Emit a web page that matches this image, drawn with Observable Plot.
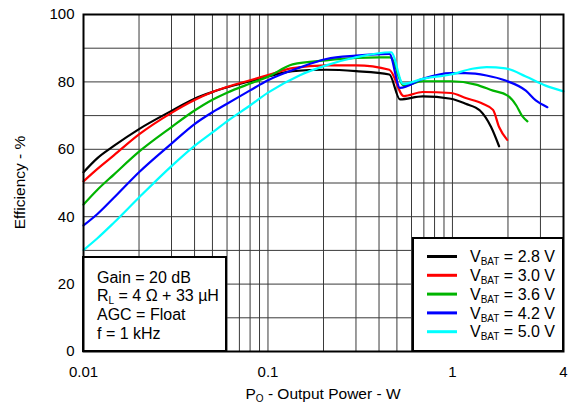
<!DOCTYPE html>
<html><head><meta charset="utf-8">
<script src="https://cdn.jsdelivr.net/npm/d3@7"></script>
<script src="https://cdn.jsdelivr.net/npm/@observablehq/plot@0.6"></script>
<style>body{margin:0;background:#fff}</style>
</head><body><div id="chart"></div>
<script>
// ---- data ----
const seriesLabels = ["V_{BAT} = 2.8 V", "V_{BAT} = 3.0 V", "V_{BAT} = 3.6 V", "V_{BAT} = 4.2 V", "V_{BAT} = 5.0 V"];
const seriesColors = ["#000000", "#ff0000", "#00b400", "#0000ff", "#00ffff"];

const power28 = [0.01, 0.0119, 0.0146, 0.02, 0.03, 0.04, 0.05, 0.06, 0.08, 0.1, 0.136, 0.207, 0.30, 0.455, 0.52, 0.69, 0.98, 1.18, 1.41, 1.62, 1.79];
const eff28   = [53.2, 57.4, 61.0, 66.0, 71.4, 75.0, 77.0, 78.4, 80.2, 81.6, 83.2, 83.6, 83.2, 82.2, 74.8, 75.7, 75.0, 73.5, 71.5, 66.6, 60.9];

const power30 = [0.01, 0.0119, 0.0146, 0.02, 0.03, 0.04, 0.05, 0.06, 0.08, 0.1, 0.136, 0.207, 0.30, 0.455, 0.545, 0.69, 0.98, 1.18, 1.46, 1.66, 1.79, 1.98];
const eff30   = [50.5, 54.2, 58.2, 64.4, 70.8, 74.6, 77.0, 78.5, 80.5, 82.0, 84.1, 84.9, 84.9, 83.6, 75.8, 77.0, 76.7, 75.2, 73.5, 71.7, 66.6, 62.8];

const power36 = [0.01, 0.0119, 0.0146, 0.02, 0.03, 0.04, 0.05, 0.06, 0.08, 0.1, 0.136, 0.207, 0.30, 0.40, 0.46, 0.545, 0.69, 0.98, 1.34, 1.66, 1.98, 2.22, 2.38, 2.55];
const eff36   = [43.6, 48.0, 52.5, 59.3, 66.6, 71.5, 74.7, 76.8, 79.5, 81.5, 85.2, 86.4, 87.1, 87.3, 87.3, 78.9, 80.2, 80.2, 79.2, 77.4, 76.0, 73.0, 70.0, 68.3];

const power42 = [0.01, 0.0119, 0.0146, 0.02, 0.03, 0.04, 0.05, 0.06, 0.08, 0.1, 0.149, 0.207, 0.30, 0.455, 0.52, 0.69, 0.98, 1.18, 1.53, 1.94, 2.5, 2.83, 3.27];
const eff42   = [37.4, 40.8, 45.6, 53.2, 61.7, 67.5, 71.0, 73.5, 77.5, 80.5, 84.3, 86.8, 87.8, 88.3, 78.2, 80.9, 82.6, 82.6, 81.9, 80.4, 77.4, 74.5, 72.5];

const power50 = [0.01, 0.0119, 0.0146, 0.02, 0.03, 0.04, 0.05, 0.06, 0.08, 0.1, 0.149, 0.207, 0.30, 0.465, 0.54, 0.69, 0.98, 1.28, 1.53, 1.94, 2.5, 3.2, 4.0];
const eff50   = [30.1, 33.6, 38.2, 45.7, 55.0, 61.0, 65.0, 68.3, 73.0, 76.8, 82.0, 84.9, 87.3, 88.8, 79.4, 80.9, 82.2, 83.9, 84.4, 84.0, 81.6, 78.9, 77.2];

const xTicks = [0.01, 0.1, 1, 4];
const xTickLabels = ["0.01", "0.1", "1", "4"];
const yTicks = [0, 20, 40, 60, 80, 100];
const noteLines = ["Gain = 20 dB", "R_{L} = 4 \u03A9 + 33 \u00B5H", "AGC = Float", "f = 1 kHz"];
const xTitle = "P_{O} - Output Power - W";
const yTitle = "Efficiency - %";

// ---- build table ----
const powers = [power28, power30, power36, power42, power50];
const effs = [eff28, eff30, eff36, eff42, eff50];
const rows = [];
seriesLabels.forEach((s, k) => powers[k].forEach((p, i) => rows.push({series: s, power: p, eff: effs[k][i]})));

const gridX = [];
for (const dec of [0.01, 0.1, 1]) for (let m = 1; m <= 9; m++) { const v = +(m * dec).toPrecision(3); if (v > 0.01 && v < 4) gridX.push(v); }
const gridY = d3.range(10, 100, 10);

function richText(g, str, x, y, anchor, size) {
  const t = g.append("text").attr("x", x).attr("y", y).attr("dy", "0.35em")
    .attr("text-anchor", anchor).attr("font-size", size + "px").attr("fill", "black");
  const parts = str.split(/(_\{[^}]*\})/);
  let sub = false;
  for (const p of parts) {
    if (!p) continue;
    const m = p.match(/^_\{([^}]*)\}$/);
    if (m) { t.append("tspan").attr("dy", 3).attr("font-size", "10px").text(m[1]); sub = true; }
    else { const s = t.append("tspan").text(p); if (sub) { s.attr("dy", -3); sub = false; } }
  }
  return t;
}

function overlays(index, scales, values, dims) {
  const d = dims || {width: 568, height: 404, marginLeft: 83, marginRight: 5, marginTop: 14, marginBottom: 53};
  const L = d.marginLeft, R = d.width - d.marginRight, T = d.marginTop, B = d.height - d.marginBottom;
  const g = d3.create("svg:g");
  // annotation box
  g.append("rect").attr("x", L).attr("y", B - 94).attr("width", 143).attr("height", 94)
    .attr("fill", "white").attr("stroke", "black").attr("stroke-width", 2);
  noteLines.forEach((s, i) => richText(g, s, L + 14, B - 74 + i * 18.7, "start", 16));
  // legend box
  g.append("rect").attr("x", R - 150).attr("y", B - 113).attr("width", 150).attr("height", 113)
    .attr("fill", "white").attr("stroke", "black").attr("stroke-width", 2);
  seriesLabels.forEach((s, i) => {
    const y = B - 94.5 + i * 18.8;
    g.append("line").attr("x1", R - 136).attr("x2", R - 106).attr("y1", y).attr("y2", y)
      .attr("stroke", seriesColors[i]).attr("stroke-width", 3);
    richText(g, s, R - 93, y, "start", 16);
  });
  // axis titles
  richText(g, xTitle, (L + R) / 2, B + 42.5, "middle", 15.5);
  g.append("text").attr("transform", `translate(20,${(T + B) / 2}) rotate(-90)`)
    .attr("text-anchor", "middle").attr("dy", "0.35em").attr("font-size", "15.5px").attr("fill", "black").text(yTitle);
  return g.node();
}

const chart = Plot.plot({
  width: 568, height: 404,
  marginLeft: 83, marginRight: 5, marginTop: 14, marginBottom: 53,
  x: {type: "log", domain: [0.01, 4]},
  y: {domain: [0, 100]},
  color: {domain: seriesLabels, range: seriesColors},
  style: {fontFamily: '"Liberation Sans", Arial, sans-serif', fontSize: "15px", background: "white", color: "black"},
  marks: [
    Plot.ruleX(gridX, {stroke: "#3a3a3a", strokeWidth: 1}),
    Plot.ruleY(gridY, {stroke: "#3a3a3a", strokeWidth: 1}),
    Plot.line(rows, {x: "power", y: "eff", z: "series", stroke: "series", strokeWidth: 2.2, strokeLinejoin: "round", curve: "monotone-x"}),
    Plot.axisX({ticks: xTicks, tickFormat: v => xTickLabels[xTicks.indexOf(v)], tickSize: 0, tickPadding: 15, label: null}),
    Plot.axisY({ticks: yTicks, tickSize: 0, tickPadding: 9, label: null}),
    overlays,
    Plot.frame({stroke: "black", strokeWidth: 2})
  ]
});
document.getElementById("chart").appendChild(chart);
</script>
</body></html>
